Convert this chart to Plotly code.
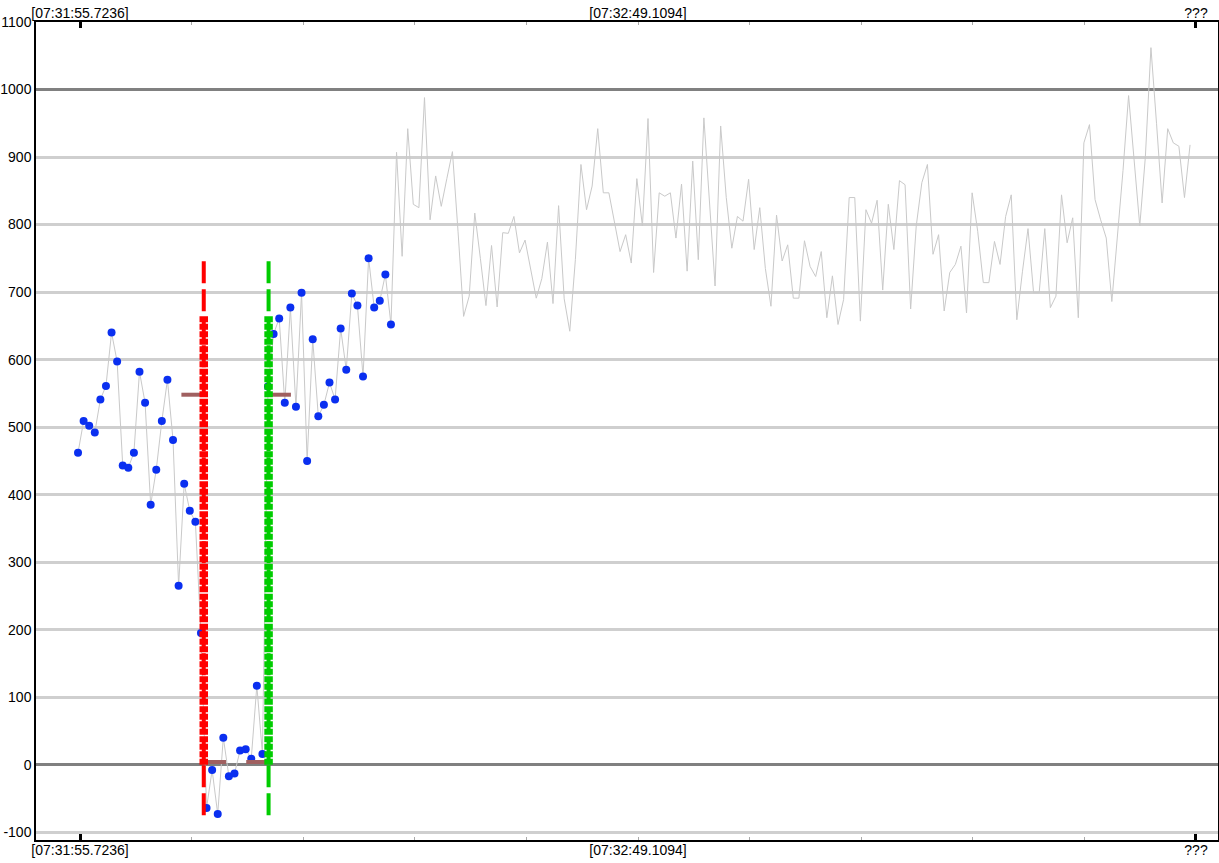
import plotly.graph_objects as go

# ---- data ----
values = [
    462, 509, 502, 492, 541, 561, 640, 597, 443, 440,
    462, 582, 536, 385, 437, 509, 570, 481, 265, 416,
    376, 360, 195, -64, -8, -73, 40, -17, -13, 21,
    23, 9, 117, 16, 560, 638, 661, 536, 677, 530,
    699, 450, 630, 516, 533, 566, 541, 646, 585, 698,
    680, 575, 750, 677, 687, 726, 652,
    907, 753, 942, 830, 825, 988, 807, 872, 827, 868,
    908, 790, 664, 694, 817, 750, 680, 769, 678, 788,
    787, 812, 758, 777, 733, 691, 720, 774, 683, 828,
    690, 642, 748, 889, 822, 857, 942, 847, 847, 802,
    760, 785, 743, 868, 798, 957, 729, 847, 842, 847,
    780, 860, 731, 894, 748, 958, 830, 709, 946, 840,
    765, 812, 805, 867, 763, 825, 735, 679, 814, 746,
    770, 691, 691, 776, 738, 723, 760, 662, 724, 652,
    689, 840, 840, 657, 822, 802, 836, 703, 830, 763,
    865, 859, 675, 798, 862, 889, 756, 785, 672, 729,
    741, 768, 669, 847, 790, 714, 714, 775, 741, 812,
    844, 659, 730, 794, 699, 699, 794, 677, 694, 844,
    773, 810, 662, 921, 948, 837, 807, 780, 686, 780,
    880, 991, 891, 798, 900, 1062, 950, 832, 942, 921,
    916, 840, 918,
]
n_marked = 57                      # samples drawn with blue markers
change_points = [22.5, 34.1]       # detected change positions (sample index)
cp_colors = ["#ff0000", "#00cc00"]
cp_span = [-75, 750]               # extent of thin dashed marker line
cp_strong = [0, 665]               # extent of heavy dotted part
seg_window = 4                     # samples each side of change point
seg_levels = [(548, 4), (4, 548)]  # (level before, level after) per change point

tick_positions = [0.36 + 19.97 * k for k in range(11)]
tick_labels = ["[07:31:55.7236]", "[07:32:49.1094]", "???"]
y_ticks = list(range(-100, 1101, 100))
x_range = [-7.52, 204.0]
y_range = [-111.5, 1100]

idx = list(range(len(values)))

fig = go.Figure()

# thin gray connecting line
fig.add_trace(go.Scatter(x=idx, y=values, mode="lines",
                         line=dict(color="#c9c9c9", width=1),
                         hoverinfo="skip", showlegend=False))
# blue markers
fig.add_trace(go.Scatter(x=idx[:n_marked], y=values[:n_marked], mode="markers",
                         marker=dict(color="#0a2ff0", size=8),
                         hoverinfo="skip", showlegend=False))

# brown mean segments
for cp, (lv_b, lv_a) in zip(change_points, seg_levels):
    fig.add_trace(go.Scatter(x=[cp - seg_window, cp], y=[lv_b, lv_b], mode="lines",
                             line=dict(color="#a06060", width=4), showlegend=False,
                             hoverinfo="skip"))
    fig.add_trace(go.Scatter(x=[cp, cp + seg_window], y=[lv_a, lv_a], mode="lines",
                             line=dict(color="#a06060", width=4), showlegend=False,
                             hoverinfo="skip"))

# change point lines
for cp, col in zip(change_points, cp_colors):
    fig.add_trace(go.Scatter(x=[cp, cp], y=cp_span, mode="lines",
                             line=dict(color=col, width=4, dash="22px,6px"),
                             showlegend=False, hoverinfo="skip"))
    fig.add_trace(go.Scatter(x=[cp, cp], y=cp_strong, mode="lines",
                             line=dict(color=col, width=8.5, dash="6px,1.5px"),
                             showlegend=False, hoverinfo="skip"))

# helper traces so that overlay axes are drawn
fig.add_trace(go.Scatter(x=[None], y=[None], xaxis="x2", yaxis="y2", showlegend=False))
fig.add_trace(go.Scatter(x=[None], y=[None], xaxis="x3", yaxis="y", showlegend=False))

font = dict(family="Liberation Sans, Arial, sans-serif", size=14, color="black")

fig.update_layout(
    width=1219, height=863,
    margin=dict(l=36, r=1, t=22, b=23, autoexpand=False),
    paper_bgcolor="white", plot_bgcolor="white",
    showlegend=False,
    font=font,
    xaxis=dict(range=x_range, tickmode="array", automargin=False,
               tickvals=[tick_positions[0], tick_positions[-1]],
               showticklabels=False, ticks="inside", ticklen=6, tickwidth=2.5,
               tickcolor="black", showgrid=False, zeroline=False,
               showline=True, linecolor="black", linewidth=1.5, mirror="ticks",
               minor=dict(tickmode="array", tickvals=tick_positions[1:-1],
                          ticks="inside", ticklen=3, tickwidth=1, tickcolor="#aaaaaa",
                          showgrid=False)),
    xaxis2=dict(range=x_range, overlaying="x", side="bottom", anchor="y", automargin=False,
                tickmode="array", tickvals=[tick_positions[0], tick_positions[5], tick_positions[10]],
                ticktext=tick_labels, ticks="", showgrid=False, zeroline=False,
                showline=False, tickfont=font),
    xaxis3=dict(range=x_range, overlaying="x", side="top", anchor="y", automargin=False,
                tickmode="array", tickvals=[tick_positions[0], tick_positions[5], tick_positions[10]],
                ticktext=tick_labels, ticks="", showgrid=False, zeroline=False,
                showline=False, tickfont=font),
    yaxis=dict(range=y_range, tickmode="array", tickvals=y_ticks, automargin=False,
               ticktext=[str(v) for v in y_ticks], ticks="",
               showgrid=True, gridcolor="#cfcfcf", gridwidth=3,
               zeroline=False, showline=True, linecolor="black", linewidth=1.5,
               mirror=True, tickfont=font),
    yaxis2=dict(range=y_range, overlaying="y", side="left", anchor="x", automargin=False,
                tickmode="array", tickvals=[0, 1000], showticklabels=False,
                ticks="", showgrid=True, gridcolor="#808080", gridwidth=3,
                zeroline=False, showline=False),
)

fig.write_html("out.html", config={"displayModeBar": False},
               post_script="document.body.style.margin='0';document.body.style.overflow='hidden';")
